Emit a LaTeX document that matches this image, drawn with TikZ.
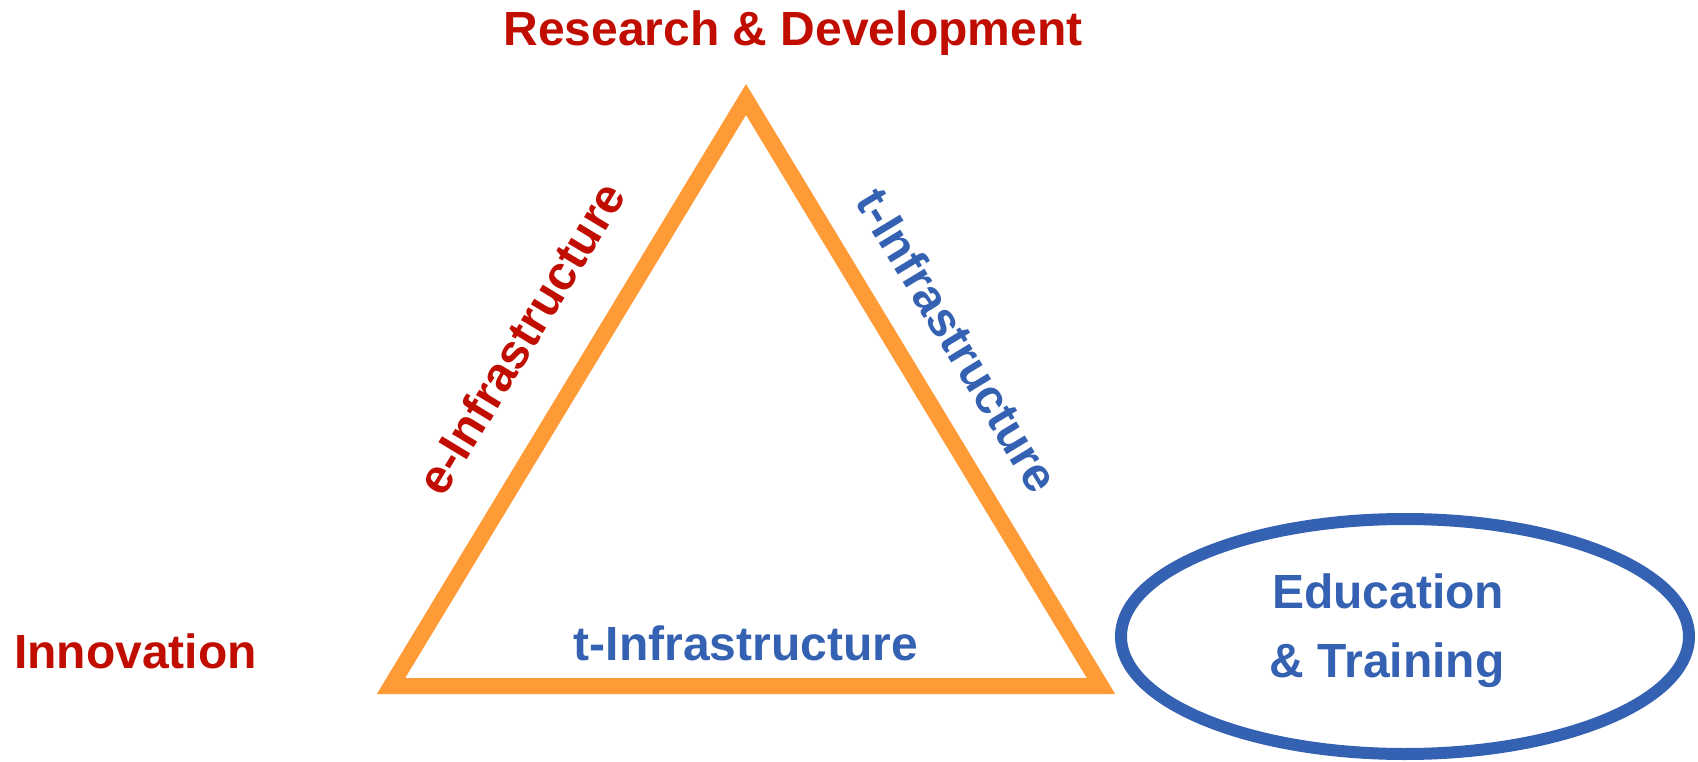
\documentclass[tikz,border=0pt]{standalone}
\usepackage{fontspec}
\setmainfont{Liberation Sans}
\usetikzlibrary{shapes.geometric}
\definecolor{tred}{HTML}{C00D00}
\definecolor{tblue}{HTML}{3461B1}
\definecolor{torange}{HTML}{FF9B36}
\begin{document}
\begin{tikzpicture}[x=1pt,y=-1pt,
  lbl/.style={font=\fontsize{48}{58}\selectfont\bfseries, inner sep=0pt},
  redlbl/.style={lbl, text=tred},
  bluelbl/.style={lbl, text=tblue}]
\useasboundingbox (0,0) rectangle (1698,762);
% triangle
\coordinate (apex) at (746,99.5);
\coordinate (bl) at (391,686);
\coordinate (br) at (1101,686);
\draw[torange, line width=16pt, miter limit=10] (apex) -- (bl) -- (br) -- cycle;
% ellipse
\node[draw=tblue, line width=12pt, ellipse, minimum width=568pt, minimum height=235pt, inner sep=0pt] (edu) at (1405,636.5) {};
% labels
\node[redlbl, anchor=base] (rd) at (793,45.5) {Research \& Development};
\node[redlbl, anchor=base] (inn) at (135.5,668) {Innovation};
\node[bluelbl, anchor=base] (tbot) at (746,660.5) {t-Infrastructure};
\node[redlbl, rotate=58.8] (eleft) at (521,338) {e-Infrastructure};
\node[bluelbl, rotate=-58.8] (tright) at (958,340) {t-Infrastructure};
\node[bluelbl, anchor=base] (ed1) at (1388,608) {Education};
\node[bluelbl, anchor=base] (ed2) at (1387,677) {\& Training};
\end{tikzpicture}
\end{document}
